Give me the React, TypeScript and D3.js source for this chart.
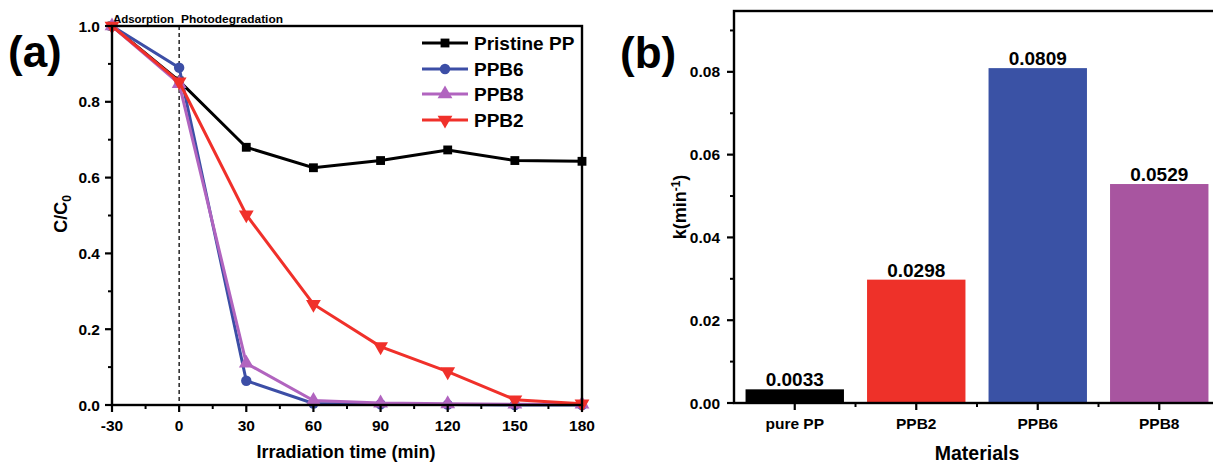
import React from "react";
import * as d3 from "d3";

// ---------- Data: panel (a) ----------
const times = [-30, 0, 30, 60, 90, 120, 150, 180];
const pristinePP = [1.0, 0.855, 0.68, 0.626, 0.645, 0.673, 0.645, 0.643];
const ppb6 = [1.0, 0.89, 0.064, 0.004, 0.002, 0.001, 0.0, 0.0];
const ppb8 = [1.0, 0.848, 0.11, 0.012, 0.005, 0.003, 0.002, 0.002];
const ppb2 = [1.0, 0.853, 0.502, 0.266, 0.154, 0.088, 0.014, 0.003];
const seriesNames = ["Pristine PP", "PPB6", "PPB8", "PPB2"];
const xTicksA = [-30, 0, 30, 60, 90, 120, 150, 180];
const yTicksA = [0.0, 0.2, 0.4, 0.6, 0.8, 1.0];

// ---------- Data: panel (b) ----------
const materials = ["pure PP", "PPB2", "PPB6", "PPB8"];
const kValues = [0.0033, 0.0298, 0.0809, 0.0529];
const kLabels = ["0.0033", "0.0298", "0.0809", "0.0529"];
const yTicksB = [0.0, 0.02, 0.04, 0.06, 0.08];

const FONT = "'Liberation Sans', Arial, Helvetica, sans-serif";

const colorsA = ["#000000", "#3c4ea6", "#b164bf", "#f0302a"];
const symbolsA = [d3.symbolSquare, d3.symbolCircle, d3.symbolTriangle, d3.symbolTriangle];
const symbolSizes = [78, 85, 95, 95];
const symbolRot = [0, 0, 0, 180];
const barColors = ["#000000", "#ee3129", "#3a52a5", "#a855a0"];

export default function App() {
  // Panel (a) scales
  const xA = d3.scaleLinear().domain([-30, 180]).range([112, 582]);
  const yA = d3.scaleLinear().domain([0, 1]).range([405, 26]);
  const seriesA = [pristinePP, ppb6, ppb8, ppb2];
  const line = d3
    .line<number>()
    .x((_, i) => xA(times[i]))
    .y((d) => yA(d));

  const minorXA = d3.range(-15, 180, 30);
  const minorYA = d3.range(0.1, 1.0, 0.2);

  // Panel (b) scales
  const xB = d3
    .scaleBand<string>()
    .domain(materials)
    .range([734, 1220])
    .paddingInner(0.19)
    .paddingOuter(0.095);
  const yB = d3.scaleLinear().domain([0, 0.0947]).range([403, 11]);
  const minorYB = [0.01, 0.03, 0.05, 0.07, 0.09];
  const stepB = xB.step();

  const legendY = [43, 69, 94, 120];

  return (
    <svg
      width={1213}
      height={464}
      style={{ position: "absolute", left: 0, top: 0, background: "#fff" }}
      fontFamily={FONT}
      fontWeight="bold"
    >
      <rect x={0} y={0} width={1213} height={464} fill="#fff" />
      {/* ================= Panel (a) ================= */}
      <text x={8} y={67} fontSize={44}>(a)</text>

      {/* dashed separator at t=0 */}
      <line
        x1={xA(0)}
        x2={xA(0)}
        y1={yA(1)}
        y2={yA(0)}
        stroke="#000"
        strokeWidth={1.3}
        strokeDasharray="4,3"
      />
      <text x={113} y={23} fontSize={11.5} textLength={61} lengthAdjust="spacingAndGlyphs">Adsorption</text>
      <text x={181} y={23} fontSize={11.5} textLength={102} lengthAdjust="spacingAndGlyphs">Photodegradation</text>

      {/* series */}
      {seriesA.map((s, si) => (
        <g key={seriesNames[si]}>
          <path d={line(s) || ""} fill="none" stroke={colorsA[si]} strokeWidth={3} />
          {s.map((v, i) => (
            <path
              key={i}
              d={d3.symbol().type(symbolsA[si]).size(symbolSizes[si])() || ""}
              transform={`translate(${xA(times[i])},${yA(v)}) rotate(${symbolRot[si]})`}
              fill={colorsA[si]}
            />
          ))}
        </g>
      ))}

      {/* frame */}
      <rect x={112} y={26} width={470} height={379} fill="none" stroke="#000" strokeWidth={2.4} />

      {/* x axis ticks */}
      {xTicksA.map((t) => (
        <g key={"xa" + t}>
          <line x1={xA(t)} x2={xA(t)} y1={405} y2={412} stroke="#000" strokeWidth={2.2} />
          <text x={xA(t)} y={431} fontSize={15.5} textAnchor="middle">{t}</text>
        </g>
      ))}
      {minorXA.map((t) => (
        <line key={"mxa" + t} x1={xA(t)} x2={xA(t)} y1={405} y2={409} stroke="#000" strokeWidth={2} />
      ))}
      {/* y axis ticks */}
      {yTicksA.map((t) => (
        <g key={"ya" + t}>
          <line x1={105} x2={112} y1={yA(t)} y2={yA(t)} stroke="#000" strokeWidth={2.2} />
          <text x={100} y={yA(t) + 5.5} fontSize={15.5} textAnchor="end">{t.toFixed(1)}</text>
        </g>
      ))}
      {minorYA.map((t) => (
        <line key={"mya" + t} x1={108} x2={112} y1={yA(t)} y2={yA(t)} stroke="#000" strokeWidth={2} />
      ))}

      {/* axis titles */}
      <text x={346} y={458} fontSize={18} textAnchor="middle">Irradiation time (min)</text>
      <text transform="translate(67,214) rotate(-90)" fontSize={18} textAnchor="middle">
        C/C<tspan fontSize={12} dy={4}>0</tspan>
      </text>

      {/* legend */}
      {seriesNames.map((n, si) => (
        <g key={"lg" + n}>
          <line x1={422} x2={468} y1={legendY[si]} y2={legendY[si]} stroke={colorsA[si]} strokeWidth={3} />
          <path
            d={d3.symbol().type(symbolsA[si]).size(symbolSizes[si])() || ""}
            transform={`translate(445,${legendY[si]}) rotate(${symbolRot[si]})`}
            fill={colorsA[si]}
          />
          <text x={474} y={legendY[si] + 7} fontSize={19}>{n}</text>
        </g>
      ))}

      {/* ================= Panel (b) ================= */}
      <text x={620} y={68} fontSize={44}>(b)</text>

      {materials.map((m, i) => (
        <g key={"bar" + m}>
          <rect
            x={xB(m)}
            y={yB(kValues[i])}
            width={xB.bandwidth()}
            height={yB(0) - yB(kValues[i])}
            fill={barColors[i]}
          />
          <text
            x={(xB(m) || 0) + xB.bandwidth() / 2}
            y={yB(kValues[i]) - 3}
            fontSize={19}
            textAnchor="middle"
          >
            {kLabels[i]}
          </text>
        </g>
      ))}

      {/* frame */}
      <rect x={734} y={11} width={486} height={392} fill="none" stroke="#000" strokeWidth={2.4} />

      {/* x ticks */}
      {materials.map((m) => {
        const cx = (xB(m) || 0) + xB.bandwidth() / 2;
        return (
          <g key={"xb" + m}>
            <line x1={cx} x2={cx} y1={403} y2={410} stroke="#000" strokeWidth={2.2} />
            <text x={cx} y={429} fontSize={15.5} textAnchor="middle">{m}</text>
          </g>
        );
      })}
      {materials.slice(0, 3).map((m) => {
        const cx = (xB(m) || 0) + xB.bandwidth() / 2 + stepB / 2;
        return <line key={"mxb" + m} x1={cx} x2={cx} y1={403} y2={407} stroke="#000" strokeWidth={2} />;
      })}
      {/* y ticks */}
      {yTicksB.map((t) => (
        <g key={"yb" + t}>
          <line x1={727} x2={734} y1={yB(t)} y2={yB(t)} stroke="#000" strokeWidth={2.2} />
          <text x={720} y={yB(t) + 5.5} fontSize={15.5} textAnchor="end">{t.toFixed(2)}</text>
        </g>
      ))}
      {minorYB.map((t) => (
        <line key={"myb" + t} x1={730} x2={734} y1={yB(t)} y2={yB(t)} stroke="#000" strokeWidth={2} />
      ))}

      {/* titles */}
      <text x={977} y={460} fontSize={19.5} textAnchor="middle">Materials</text>
      <text transform="translate(686,207) rotate(-90)" fontSize={18} textAnchor="middle">
        k(min<tspan fontSize={12} dy={-6}>-1</tspan><tspan dy={6}>)</tspan>
      </text>
    </svg>
  );
}
